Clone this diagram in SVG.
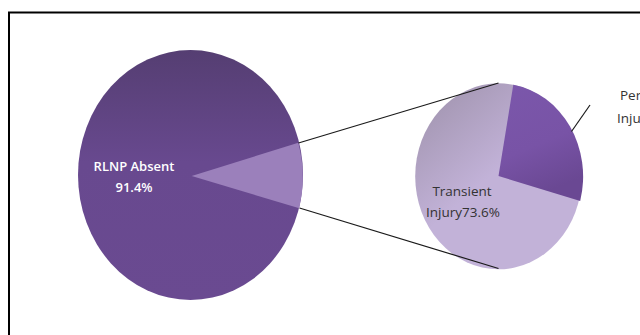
<svg xmlns="http://www.w3.org/2000/svg" width="640" height="335" viewBox="0 0 640 335">
<defs>
<linearGradient id="gMain" x1="0" y1="0" x2="0" y2="1">
<stop offset="0" stop-color="#553e72"/>
<stop offset="0.45" stop-color="#68498f"/>
<stop offset="1" stop-color="#6a4a91"/>
</linearGradient>
<linearGradient id="gDark" x1="0" y1="0" x2="0.3" y2="1">
<stop offset="0" stop-color="#7b57ab"/>
<stop offset="0.6" stop-color="#7853a6"/>
<stop offset="1" stop-color="#6a4893"/>
</linearGradient>
<linearGradient id="gLight" x1="0.1" y1="0.05" x2="0.45" y2="0.5">
<stop offset="0" stop-color="#a295b0"/>
<stop offset="1" stop-color="#c2b2d8"/>
</linearGradient>
<style>
.lbl{font-family:"Open Sans","Noto Sans",sans-serif;font-size:13px}
.w{fill:#ffffff;font-weight:600}
.d{fill:#333333}
.ln{stroke:#1a1a1a;stroke-width:1.2;fill:none}
</style>
</defs>
<rect width="640" height="335" fill="#ffffff"/>
<path d="M9 335 V12.5 H640" fill="none" stroke="#000" stroke-width="2"/>
<g id="pie-left">
<ellipse cx="190.5" cy="175" rx="112.5" ry="125" fill="url(#gMain)"/>
<path d="M191.7 176 L298.3 142.7 A112.5 125 0 0 1 299.3 208.3 Z" fill="#9b80bb"/>
<text class="lbl w" x="134" y="171" text-anchor="middle">RLNP Absent</text>
<text class="lbl w" x="134" y="191.5" text-anchor="middle">91.4%</text>
</g>
<g id="pie-right">
<ellipse cx="498.5" cy="176.3" rx="83.3" ry="93" fill="url(#gLight)"/>
<path d="M498.5 176 L513.3 84.8 A83.3 93 0 0 1 580.2 201 Z" fill="url(#gDark)"/>
<text class="lbl d" x="462" y="196" text-anchor="middle" style="font-size:13.5px">Transient</text>
<text class="lbl d" x="463" y="216.5" text-anchor="middle" style="font-size:13.5px">Injury73.6%</text>
</g>
<g id="label-permanent">
<text class="lbl d" x="620" y="100" style="font-size:13.5px">Per</text>
<text class="lbl d" x="617" y="122.5" style="font-size:13.5px">Inju</text>
</g>
<g id="connectors">
<line class="ln" x1="298.5" y1="143" x2="498.5" y2="83"/>
<line class="ln" x1="299.5" y1="208" x2="498.5" y2="268.5"/>
<line class="ln" x1="571.5" y1="131.5" x2="590" y2="105"/>
</g>
</svg>
